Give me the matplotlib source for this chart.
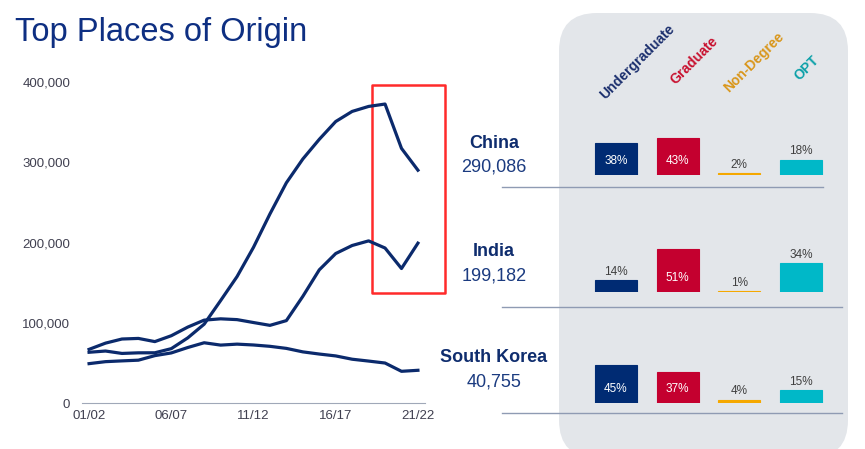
import numpy as np
import matplotlib
matplotlib.use('Agg')
import matplotlib.pyplot as plt
from matplotlib.patches import FancyBboxPatch, Rectangle

plt.rcParams['font.family'] = ['Liberation Sans', 'DejaVu Sans']

# данные: число студентов по годам
years = ['01/02', '02/03', '03/04', '04/05', '05/06', '06/07', '07/08', '08/09', '09/10', '10/11',
         '11/12', '12/13', '13/14', '14/15', '15/16', '16/17', '17/18', '18/19', '19/20', '20/21', '21/22']
china = [63211, 64757, 61765, 62523, 62582, 67723, 81127, 98235, 127628, 157558,
         194029, 235597, 274439, 304040, 328547, 350755, 363341, 369548, 372532, 317299, 290086]
india = [66836, 74603, 79736, 80466, 76503, 83833, 94563, 103260, 104897, 103895,
         100270, 96754, 102673, 132888, 165918, 186267, 196271, 202014, 193124, 167582, 199182]
korea = [49046, 51519, 52484, 53358, 59022, 62392, 69124, 75065, 72153, 73351,
         72295, 70627, 68047, 63710, 61007, 58663, 54555, 52250, 49809, 39491, 40755]

countries = ['China', 'India', 'South Korea']
totals = ['290,086', '199,182', '40,755']
categories = ['Undergraduate', 'Graduate', 'Non-Degree', 'OPT']
shares = [[38, 43, 2, 18],
          [14, 51, 1, 34],
          [45, 37, 4, 15]]

navy = '#0b2a6c'
bar_colors = ['#002b73', '#c4002f', '#f5a800', '#00b8c8']
head_colors = ['#1b2f6e', '#c8102e', '#d9961a', '#0aa0a8']

W, H = 865, 449
fig = plt.figure(figsize=(W / 100, H / 100), dpi=100, facecolor='white')

# фон и подписи в пикселях
bg = fig.add_axes([0, 0, 1, 1])
bg.set_xlim(0, W)
bg.set_ylim(H, 0)
bg.axis('off')
bg.add_patch(FancyBboxPatch((559, 13), 289, 445, boxstyle='round,pad=0,rounding_size=38',
                            facecolor='#e3e6ea', edgecolor='none'))
bg.text(15, 33, 'Top Places of Origin', fontsize=23.5, color='#0e2f82', va='center', ha='left')

name_y = [143, 252, 358]
sep = [(187, 823), (307, 842), (413, 842)]
for i, c in enumerate(countries):
    bg.text(494, name_y[i], c, fontsize=13, fontweight='bold', color='#0f2d6e', ha='center', va='center')
    bg.text(494, name_y[i] + 24, totals[i], fontsize=13, color='#1b3b80', ha='center', va='center')
    bg.plot([502, sep[i][1]], [sep[i][0], sep[i][0]], color='#8f9bb3', lw=1)

head_xy = [(637, 62), (694, 61), (754, 62), (807, 68)]
for k, cat in enumerate(categories):
    bg.text(head_xy[k][0], head_xy[k][1], cat, fontsize=10, fontweight='bold', color=head_colors[k],
            rotation=45, ha='center', va='center', rotation_mode='anchor')

# линейный график
ax = fig.add_axes([82 / W, 1 - 403 / H, 343 / W, 321 / H])
x = np.arange(len(years))
for s in [china, india, korea]:
    ax.plot(x, s, color=navy, lw=2.3, solid_joinstyle='round')
ax.set_xlim(-0.43, 20.43)
ax.set_ylim(0, 400000)
ax.set_yticks([0, 100000, 200000, 300000, 400000])
ax.set_yticklabels(['0', '100,000', '200,000', '300,000', '400,000'])
ax.set_xticks(x[::5])
ax.set_xticklabels(years[::5])
ax.tick_params(length=0, labelsize=9.5, colors='#404050')
ax.tick_params(axis='y', pad=8.5)
ax.tick_params(axis='x', pad=5)
for sp in ['top', 'right', 'left']:
    ax.spines[sp].set_visible(False)
ax.spines['bottom'].set_color('#a0a8b8')
ax.patch.set_alpha(0)
ax.add_patch(Rectangle((17.2, 137000), 4.44, 259000, fill=False, edgecolor='#ff2a2a', lw=1.8,
                       clip_on=False, joinstyle='round'))

# столбики по странам
base_y = [175, 292, 403]
px_per = 0.85
for i in range(3):
    bx = fig.add_axes([580 / W, 1 - base_y[i] / H, 255 / W, 60 / H])
    bx.set_xlim(-0.583, 3.55)
    bx.set_ylim(0, 60 / px_per)
    bx.axis('off')
    bx.bar(range(4), shares[i], width=0.68, color=bar_colors, edgecolor=bar_colors, lw=0.8)
    for k, v in enumerate(shares[i]):
        if v >= 35:
            bx.text(k, min(v / 2, 16), f'{v}%', ha='center', va='center', fontsize=8.5, color='white')
        else:
            bx.text(k, v + 3, f'{v}%', ha='center', va='bottom', fontsize=8.5, color='#404040')

fig.savefig('out.png', dpi=100)
